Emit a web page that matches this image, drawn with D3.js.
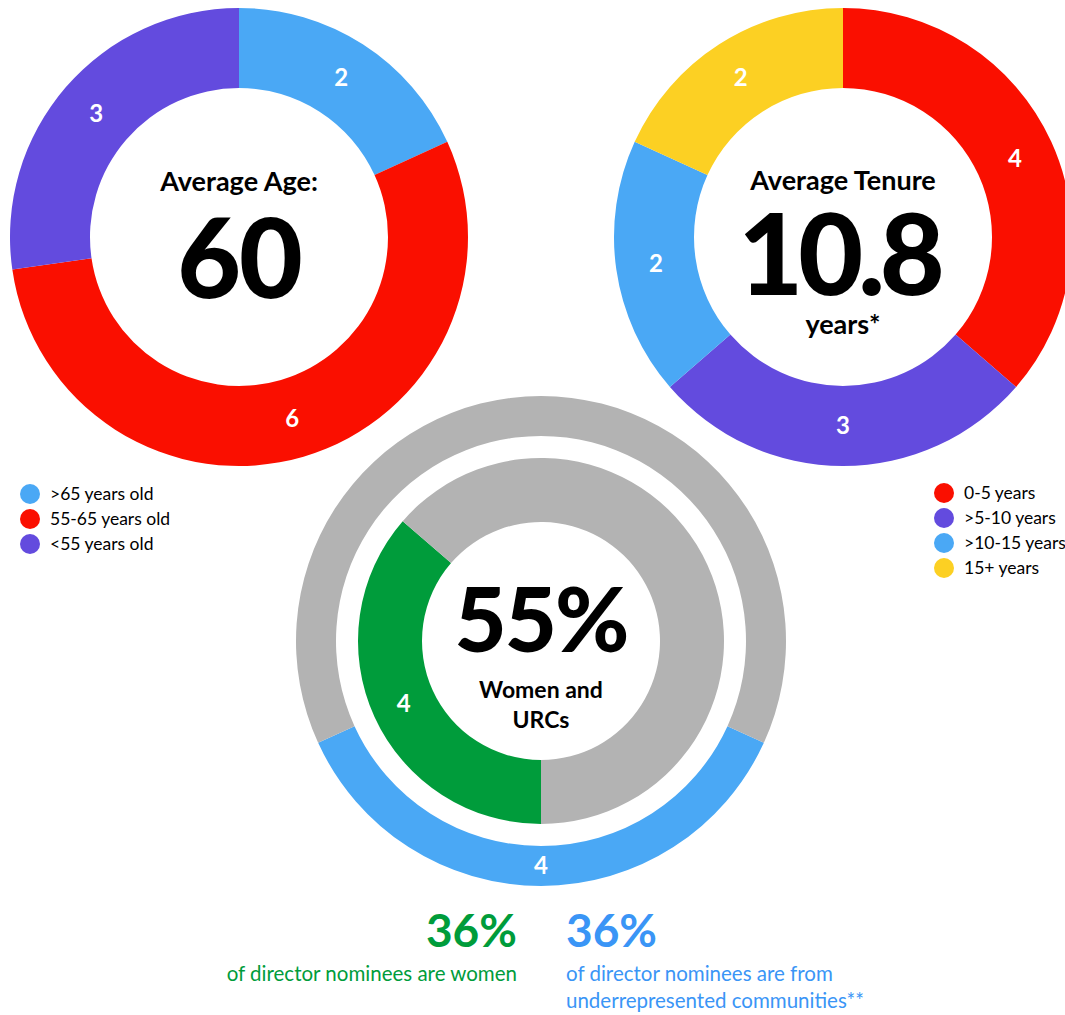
<!DOCTYPE html>
<html>
<head>
  <meta charset="utf-8">
  <title>Board composition</title>
  <script src="https://d3js.org/d3.v7.min.js"></script>
  <style>
    body { margin: 0; background: #fff; }
    svg text { font-family: "Lato", "Open Sans", sans-serif; }
    .big { font-weight: 900; fill: #000; }
    .title { font-weight: 700; fill: #000; }
    .seg { font-weight: 700; fill: #fff; font-size: 24px; }
    .legend text { font-size: 17.5px; fill: #000; }
  </style>
</head>
<body>
<svg id="chart"></svg>
<script>
  // data
  var ageLabels = [">65 years old", "55-65 years old", "<55 years old"];
  var ageCounts = [2, 6, 3];
  var ageColors = ["#4aa8f5", "#fa0f00", "#634bde"];

  var tenureLabels = ["0-5 years", ">5-10 years", ">10-15 years", "15+ years"];
  var tenureCounts = [4, 3, 2, 2];
  var tenureColors = ["#fa0f00", "#634bde", "#4aa8f5", "#fcd023"];

  // bottom rings: [highlighted, rest]
  var womenCounts = [4, 7];
  var urcCounts = [4, 7];
  var womenColors = ["#009c3b", "#b3b3b3"];
  var urcColors = ["#4aa8f5", "#b3b3b3"];

  var W = 1065, H = 1015;
  var svg = d3.select("#chart").attr("width", W).attr("height", H);

  function donut(cx, cy, r0, r1, counts, colors, start, labelMask) {
    var pie = d3.pie().sort(null).startAngle(start).endAngle(start + 2 * Math.PI);
    var arc = d3.arc().innerRadius(r0).outerRadius(r1);
    var g = svg.append("g").attr("transform", "translate(" + cx + "," + cy + ")");
    var arcs = pie(counts);
    g.selectAll("path").data(arcs).enter().append("path")
      .attr("d", arc)
      .attr("fill", function (d, i) { return colors[i]; });
    g.selectAll("text").data(arcs.filter(function (d, i) { return !labelMask || labelMask[i]; }))
      .enter().append("text")
      .attr("class", "seg")
      .attr("text-anchor", "middle")
      .attr("dy", "0.35em")
      .attr("transform", function (d) { return "translate(" + arc.centroid(d) + ")"; })
      .text(function (d) { return d.data; });
    return g;
  }

  // ① average age
  var g1 = donut(239, 237, 149, 229, ageCounts, ageColors, 0);
  g1.append("text").attr("class", "title").attr("text-anchor", "middle")
    .attr("y", -46).style("font-size", "27px").text("Average Age:");
  g1.append("text").attr("class", "big").attr("text-anchor", "middle")
    .attr("y", 61).style("font-size", "110px").style("letter-spacing", "-2px").text("60");

  // ② average tenure
  var g2 = donut(843, 237, 149, 229, tenureCounts, tenureColors, 0);
  g2.append("text").attr("class", "title").attr("text-anchor", "middle")
    .attr("y", -47).style("font-size", "27px").text("Average Tenure");
  g2.append("text").attr("class", "big").attr("text-anchor", "middle")
    .attr("x", -4).attr("y", 58).style("font-size", "112px").style("letter-spacing", "-5px").text("10.8");
  g2.append("text").attr("class", "title").attr("text-anchor", "middle")
    .attr("y", 97).style("font-size", "27px").text("years*");

  // ③ women and URCs
  var cx3 = 541, cy3 = 641;
  var urcTotal = d3.sum(urcCounts);
  donut(cx3, cy3, 205, 245, urcCounts, urcColors,
    Math.PI - Math.PI * urcCounts[0] / urcTotal, [true, false]);
  donut(cx3, cy3, 119, 183, womenCounts, womenColors, Math.PI, [true, false]);
  var g3t = svg.append("g").attr("transform", "translate(" + cx3 + "," + cy3 + ")");
  g3t.append("text").attr("class", "big").attr("text-anchor", "middle")
    .attr("y", 11).style("font-size", "90px").style("letter-spacing", "-2px").text("55%");
  g3t.append("text").attr("class", "title").attr("text-anchor", "middle")
    .attr("y", 57).style("font-size", "23px").text("Women and");
  g3t.append("text").attr("class", "title").attr("text-anchor", "middle")
    .attr("y", 87).style("font-size", "23px").text("URCs");

  // ④ legends
  function legend(x, y, labels, colors) {
    var lg = svg.append("g").attr("class", "legend")
      .attr("transform", "translate(" + x + "," + y + ")");
    var item = lg.selectAll("g").data(labels).enter().append("g")
      .attr("transform", function (d, i) { return "translate(0," + i * 25 + ")"; });
    item.append("circle").attr("r", 10).attr("fill", function (d, i) { return colors[i]; });
    item.append("text").attr("x", 20).attr("dy", "0.35em").text(function (d) { return d; });
  }
  legend(30, 494, ageLabels, ageColors);
  legend(944, 493, tenureLabels, tenureColors);

  // ⑤ footnote stats
  var pctWomen = Math.round(100 * womenCounts[0] / d3.sum(womenCounts));
  var pctUrc = Math.round(100 * urcCounts[0] / urcTotal);
  svg.append("text").attr("text-anchor", "end")
    .attr("x", 517).attr("y", 947).style("font-size", "46px").style("font-weight", 700)
    .style("fill", "#009c3b").text(pctWomen + "%");
  svg.append("text").attr("text-anchor", "end")
    .attr("x", 517).attr("y", 981).style("font-size", "20.5px")
    .style("fill", "#009c3b").text("of director nominees are women");
  svg.append("text")
    .attr("x", 566).attr("y", 947).style("font-size", "46px").style("font-weight", 700)
    .style("fill", "#3a95f6").text(pctUrc + "%");
  svg.append("text")
    .attr("x", 566).attr("y", 981).style("font-size", "20.5px")
    .style("fill", "#3a95f6").text("of director nominees are from");
  svg.append("text")
    .attr("x", 566).attr("y", 1008).style("font-size", "20.5px")
    .style("fill", "#3a95f6").text("underrepresented communities**");
</script>
</body>
</html>
